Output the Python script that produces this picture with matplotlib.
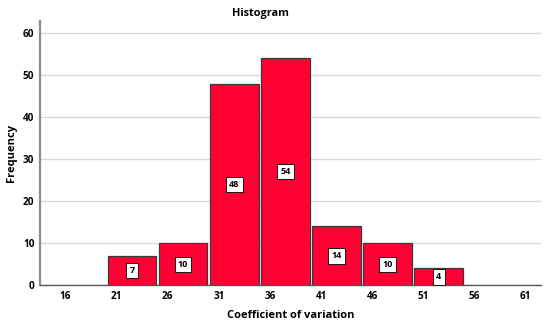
import numpy as np
import matplotlib
matplotlib.use("Agg")
from matplotlib import pyplot as plt

# histogram bins (left edges, width 5) and counts
bin_left = [20, 25, 30, 35, 40, 45, 50]
counts = [7, 10, 48, 54, 14, 10, 4]
xticks = [16, 21, 26, 31, 36, 41, 46, 51, 56, 61]
yticks = [0, 10, 20, 30, 40, 50, 60]

plt.rcParams['font.family'] = ['Open Sans', 'DejaVu Sans']

fig = plt.figure(figsize=(5.5, 3.24), dpi=100)
ax = fig.add_axes([0.0727, 0.1195, 0.911, 0.817])

centers = np.array(bin_left) + 2.5
ax.bar(centers, counts, width=4.75, color='#ff0033', edgecolor='#3a3a3a',
       linewidth=0.9, zorder=3)

for c, n in zip(centers, counts):
    ax.text(c, n / 2, str(n), ha='center', va='center', fontsize=6.5,
            fontweight='bold', zorder=4,
            bbox=dict(boxstyle='square,pad=0.35', fc='white', ec='black', lw=0.6))

ax.set_xlim(13.5, 62.5)
ax.set_ylim(0, 63)
ax.set_xticks(xticks)
ax.set_yticks(yticks)
ax.tick_params(length=0, labelsize=7.2)
ax.tick_params(axis='x', pad=4)
ax.tick_params(axis='y', pad=4)
for lbl in ax.get_xticklabels() + ax.get_yticklabels():
    lbl.set_fontweight('bold')

ax.yaxis.grid(True, color='#d9d9d9', linewidth=1.0, zorder=0)
ax.set_axisbelow(True)

for s in ['top', 'right']:
    ax.spines[s].set_visible(False)
ax.spines['left'].set_color('#8c8c8c')
ax.spines['left'].set_linewidth(1.6)
ax.spines['bottom'].set_color('#555555')
ax.spines['bottom'].set_linewidth(1.0)

# SPSS puts the title a little left of the plot centre
fig.text(0.473, 0.958, 'Histogram', ha='center', va='center',
         fontsize=7.8, fontweight='bold')
ax.set_xlabel('Coefficient of variation', fontsize=8, fontweight='bold', labelpad=6)
ax.set_ylabel('Frequency', fontsize=8, fontweight='bold', labelpad=4)

fig.savefig('out.png', dpi=100)
